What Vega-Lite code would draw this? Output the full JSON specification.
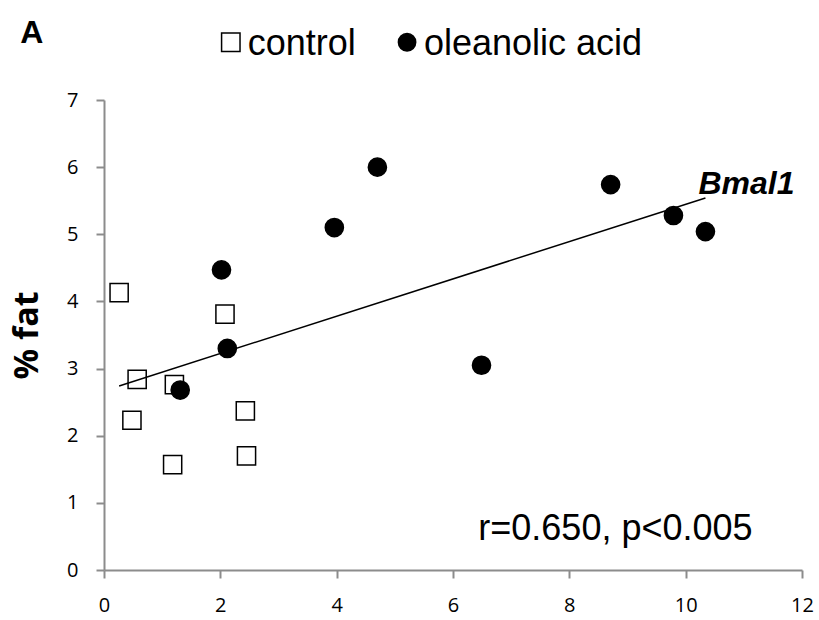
{
  "$schema": "https://vega.github.io/schema/vega-lite/v6.json",
  "width": 698,
  "height": 470,
  "autosize": {"type": "none"},
  "padding": {"left": 104, "top": 100, "right": 17, "bottom": 50},
  "background": "white",
  "config": {
    "view": {"stroke": null},
    "axis": {
      "grid": false,
      "domainColor": "#8c8c8c",
      "domainWidth": 2,
      "tickColor": "#8c8c8c",
      "tickWidth": 2,
      "tickSize": 8,
      "labelFont": "Open Sans",
      "labelFontSize": 20,
      "labelColor": "black",
      "format": "d"
    }
  },
  "layer": [
    {
      "data": {
        "values": [
          {"group": "control", "x": 0.26, "y": 4.13},
          {"group": "control", "x": 0.57, "y": 2.84},
          {"group": "control", "x": 1.21, "y": 2.76},
          {"group": "control", "x": 0.48, "y": 2.23},
          {"group": "control", "x": 2.43, "y": 2.37},
          {"group": "control", "x": 1.18, "y": 1.57},
          {"group": "control", "x": 2.45, "y": 1.70},
          {"group": "control", "x": 2.08, "y": 3.81},
          {"group": "oleanolic acid", "x": 2.02, "y": 4.47},
          {"group": "oleanolic acid", "x": 2.12, "y": 3.30},
          {"group": "oleanolic acid", "x": 1.31, "y": 2.68},
          {"group": "oleanolic acid", "x": 4.70, "y": 6.00},
          {"group": "oleanolic acid", "x": 3.96, "y": 5.10},
          {"group": "oleanolic acid", "x": 6.49, "y": 3.05},
          {"group": "oleanolic acid", "x": 8.71, "y": 5.74},
          {"group": "oleanolic acid", "x": 9.79, "y": 5.28},
          {"group": "oleanolic acid", "x": 10.34, "y": 5.04}
        ],
        "name": "pts"
      },
      "layer": [
        {
          "mark": {"type": "point", "filled": true, "stroke": "black", "strokeWidth": 1.5, "opacity": 1, "size": 330},
          "encoding": {
            "x": {
              "field": "x", "type": "quantitative",
              "scale": {"domain": [0, 12], "nice": false, "zero": false},
              "axis": {"values": [0, 2, 4, 6, 8, 10, 12], "title": null, "labelPadding": 17, "labelFlush": false}
            },
            "y": {
              "field": "y", "type": "quantitative",
              "scale": {"domain": [0, 7], "nice": false},
              "axis": {
                "values": [0, 1, 2, 3, 4, 5, 6, 7], "title": "% fat", "labelPadding": 18,
                "titleFont": "Open Sans", "titleFontSize": 34, "titleFontWeight": "bold",
                "titleColor": "black", "titlePadding": 22
              }
            },
            "shape": {
              "field": "group", "type": "nominal",
              "scale": {"domain": ["control", "oleanolic acid"], "range": ["square", "circle"]},
              "legend": null
            },
            "fill": {
              "field": "group", "type": "nominal",
              "scale": {"domain": ["control", "oleanolic acid"], "range": ["white", "black"]},
              "legend": null
            }
          }
        },
        {
          "transform": [{"regression": "y", "on": "x"}],
          "mark": {"type": "line", "color": "black", "strokeWidth": 1.5},
          "encoding": {
            "x": {"field": "x", "type": "quantitative"},
            "y": {"field": "y", "type": "quantitative"}
          }
        }
      ]
    },
    {
      "data": {"values": [{"group": "control"}]},
      "mark": {"type": "point", "shape": "square", "filled": true, "fill": "white", "stroke": "black", "strokeWidth": 1.5, "opacity": 1, "size": 340},
      "encoding": {"x": {"datum": 2.18}, "y": {"datum": 7.86}}
    },
    {
      "data": {"values": [{"group": "oleanolic acid"}]},
      "mark": {"type": "point", "shape": "circle", "filled": true, "fill": "black", "stroke": "black", "strokeWidth": 1.5, "opacity": 1, "size": 300},
      "encoding": {"x": {"datum": 5.21}, "y": {"datum": 7.86}}
    },
    {
      "data": {"values": [{}]},
      "mark": {"type": "text", "text": "control", "font": "Liberation Sans", "fontSize": 36, "align": "left", "baseline": "alphabetic", "color": "black"},
      "encoding": {"x": {"datum": 2.47}, "y": {"datum": 7.67}}
    },
    {
      "data": {"values": [{}]},
      "mark": {"type": "text", "text": "oleanolic acid", "font": "Liberation Sans", "fontSize": 36, "align": "left", "baseline": "alphabetic", "color": "black"},
      "encoding": {"x": {"datum": 5.5}, "y": {"datum": 7.67}}
    },
    {
      "data": {"values": [{}]},
      "mark": {"type": "text", "text": "Bmal1", "font": "Liberation Sans", "fontSize": 32, "fontWeight": "bold", "fontStyle": "italic", "align": "right", "baseline": "alphabetic", "color": "black"},
      "encoding": {"x": {"datum": 11.87}, "y": {"datum": 5.6}}
    },
    {
      "data": {"values": [{}]},
      "mark": {"type": "text", "text": "r=0.650, p<0.005", "font": "Liberation Sans", "fontSize": 36, "align": "right", "baseline": "alphabetic", "color": "black"},
      "encoding": {"x": {"datum": 11.15}, "y": {"datum": 0.446}}
    },
    {
      "data": {"values": [{}]},
      "mark": {"type": "text", "text": "A", "font": "Liberation Sans", "fontSize": 32, "fontWeight": "bold", "align": "left", "baseline": "alphabetic", "color": "black"},
      "encoding": {"x": {"datum": -1.44}, "y": {"datum": 7.85}}
    }
  ]
}
